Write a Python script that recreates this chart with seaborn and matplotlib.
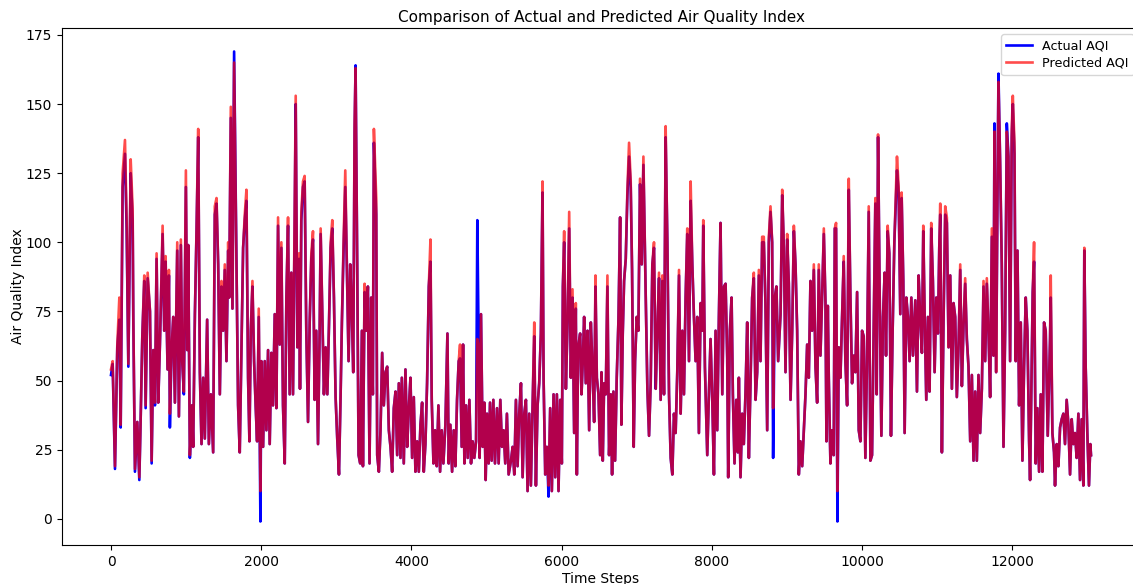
import matplotlib
matplotlib.use("Agg")
import matplotlib.pyplot as plt
import seaborn as sns
import pandas as pd

# ---- data (time step, actual AQI, predicted AQI) ----
steps_a = [0,22,53,84,111,129,155,186,208,231, 262,288,297,319,350,377,394,417,443,461,
           488,519,541,563,585,607,629,651,687,709, 727,753,771,784,806,829,851,882,904,930,
           948,970,997,1015,1028,1050,1077,1094,1117,1139, 1161,1183,1205,1227,1249,1280,1303,1329,1360,1382,
           1405,1427,1449,1471,1493,1515,1537,1560,1573,1595, 1617,1639]
actual_a = [52,56,18,62,72,33,120,132,105,55, 125,108,72,17,35,14,35,66,86,40,
            87,75,20,61,41,94,42,63,103,68, 93,54,88,33,61,73,42,97,37,99,
            57,45,120,61,99,22,41,26,74,104, 138,53,27,51,29,72,27,45,24,110,
            114,92,45,84,68,90,57,97,80,145, 76,169]
pred_a = [54,57,19,63,80,34,125,137,108,56, 130,112,73,18,35,15,35,66,88,41,
          89,75,21,61,42,96,42,63,106,68, 95,54,90,38,61,73,42,100,37,101,
          57,46,126,61,99,23,41,26,74,105, 141,53,27,51,29,72,27,45,24,113,
          116,92,45,86,68,92,57,100,80,149, 76,165]

steps_b = [1670,1692,1714,1737,1759,1781,1803,1825,1843,1861, 1883,1905,1927,1945,1967,1989,2002,2025,2047,2069,
           2091,2113,2135,2157,2180,2202,2224,2246,2268,2290, 2313,2335,2357,2379,2401,2423,2445,2459,2481,2503,
           2516,2534,2556,2578,2600,2623,2645,2667,2689,2711, 2733,2756,2778,2791,2813,2835,2857,2880,2902,2924,
           2946,2968,2990,3012,3035,3057,3074,3097,3119,3141, 3163,3185,3207,3225,3243,3256,3278,3296,3318,3340,
           3354,3376,3398,3420,3442,3464,3486,3500]
actual_b = [94,41,24,62,98,108,115,51,28,68, 84,57,40,28,73,-1,57,26,57,32,
            61,27,60,41,74,40,106,63,98,41, 20,80,106,45,89,45,106,150,62,94,
            47,108,120,122,68,35,71,94,101,43, 68,27,68,103,74,45,62,45,70,98,
            105,80,44,29,16,45,71,98,120,90, 57,92,74,53,140,164,92,23,20,68,
            19,82,68,84,20,80,45,136]
pred_b = [94,41,24,62,98,110,119,51,28,68, 86,57,40,28,76,10,57,26,57,32,
          61,27,60,41,74,40,109,63,100,41, 20,80,109,45,89,45,109,153,62,96,
          47,111,122,124,68,35,71,96,104,43, 68,27,68,105,74,45,62,45,70,100,
          108,80,44,29,16,45,71,101,126,90, 57,92,74,53,143,163,92,23,20,68,
          19,85,68,84,20,80,45,141]

steps_c = [3531,3544,3566,3588,3610,3632,3655,3677,3699,3721, 3743,3765,3788,3810,3832,3854,3872,3898,3920,3943,
           3965,3987,4009,4031,4053,4076,4098,4120,4142,4164, 4186,4208,4231,4253,4270,4293,4315,4337,4359,4381,
           4403,4425,4452,4479,4496,4518,4541,4563,4585,4607, 4629,4647,4669,4687,4705,4727,4749,4771,4793,4815,
           4837,4860,4877,4895,4908,4926,4948,4970,4988,5006, 5028,5046,5068,5090,5112,5139,5161,5183,5205,5227,
           5249,5271,5294]
actual_c = [110,23,17,32,60,41,53,55,32,26, 17,40,46,23,49,22,51,20,54,26,
            40,51,22,44,17,28,17,34,42,17, 27,49,84,93,43,20,32,19,41,17,
            32,20,34,67,20,34,17,32,19,43, 57,58,26,63,20,41,22,43,20,28,
            22,28,108,62,22,74,26,42,14,38, 20,42,21,43,20,40,20,43,26,32,
            20,38,16]
pred_c = [116,23,17,32,60,41,53,55,32,26, 17,40,46,23,49,22,51,20,54,26,
          40,51,22,44,17,28,17,34,42,17, 27,49,84,101,43,20,32,19,41,17,
          32,20,34,67,20,34,17,32,19,43, 57,63,26,63,20,41,22,43,20,28,
          22,28,65,62,22,74,26,42,14,38, 20,42,21,43,20,40,20,43,26,32,
          20,38,16]

steps_d = [5325,5347,5369,5391,5413,5435,5458,5480,5502,5524, 5546,5568,5590,5613,5635,5657,5679,5701,5723,5745,
           5759,5781,5803,5825,5847,5869,5892,5914,5936,5958, 5980,6002,6016,6033,6056,6078,6100,6122,6144,6166,
           6188,6202,6219,6246,6264,6281,6299,6321,6344,6366, 6388,6410,6432,6450,6468,6490,6512,6530,6547,6565,
           6587,6609,6631,6654,6671,6689,6711,6733,6756,6778, 6795,6813,6831,6853,6875,6897,6919,6937,6959,6977,
           6999,7021,7043,7066,7088]
actual_d = [21,26,16,43,19,38,49,15,38,43, 10,38,12,41,66,12,41,49,67,118,
            51,16,26,8,40,10,45,15,45,10, 43,20,84,100,47,71,105,51,80,31,
            76,16,62,67,45,57,73,49,68,32, 71,55,35,84,51,45,23,53,21,49,
            45,84,23,45,16,46,21,51,72,109, 34,67,86,94,117,131,120,90,26,57,
            73,68,121,92,128]
pred_d = [21,26,16,43,19,38,49,15,38,43, 10,38,12,41,71,12,41,49,67,122,
          51,16,26,12,40,10,45,15,45,10, 43,20,84,104,47,71,111,51,83,31,
          78,16,62,67,45,57,73,49,68,32, 71,55,35,88,51,45,23,53,21,49,
          45,88,23,45,16,46,21,51,72,109, 34,67,86,94,119,136,122,90,26,57,
          73,68,123,92,131]

steps_e = [7119,7141,7163,7185,7207,7229,7252,7274,7296,7318, 7340,7362,7384,7407,7429,7451,7473,7495,7517,7539,
           7562,7584,7606,7628,7650,7672,7695,7717,7739,7761, 7783,7805,7827,7850,7872,7885,7907,7938,7960,7982,
           8005,8027,8049,8071,8093,8115,8138,8160,8182,8204, 8217,8239,8262,8279,8301,8324,8346,8359,8381,8403,
           8425,8448,8470,8492,8514,8536,8558,8581,8603,8625, 8647,8669,8691,8713,8736,8758,8780,8802,8815,8837,
           8859,8882]
actual_e = [80,47,30,49,92,98,47,68,87,43, 86,45,138,100,45,22,16,38,31,53,
            88,38,68,45,80,103,57,115,92,73, 57,73,31,78,68,106,55,23,45,65,
            43,16,68,32,73,107,45,84,85,58, 15,68,80,45,20,43,24,51,15,38,
            27,46,71,22,49,80,87,43,53,88, 57,100,100,78,32,100,111,100,22,80,
            84,57]
pred_e = [80,47,30,49,92,100,47,68,89,43, 88,45,142,100,45,22,16,38,31,53,
          90,38,68,45,80,105,57,122,92,73, 57,73,31,78,68,108,55,23,45,65,
          43,16,68,32,73,107,45,84,85,58, 15,68,80,45,20,43,24,51,15,38,
          27,46,71,22,49,80,89,43,53,90, 57,102,102,78,32,102,113,100,40,80,
          84,57]

steps_f = [8914,8936,8958,8980,9002,9024,9047,9069,9091,9113, 9135,9157,9179,9202,9224,9246,9268,9290,9312,9334,
           9357,9379,9401,9423,9445,9467,9490,9512,9525,9543, 9556,9578,9600,9622,9636,9653,9671,9689,9711,9733,
           9755,9777,9800,9822,9844,9866,9888,9910,9933,9955, 9977,9999,10021,10043,10065,10088,10110,10132,10154,10176,
           10194,10212,10234,10256,10278,10300,10318,10340,10362,10384, 10406,10429,10446,10464,10486,10508,10526,10548,10566,10588,
           10610,10632,10655,10677]
actual_f = [74,117,98,53,101,85,43,68,104,92, 68,16,28,19,32,45,63,51,86,68,
            90,55,42,90,59,80,103,78,28,77, 51,20,32,23,105,105,-1,62,51,73,
            93,57,41,119,80,49,59,53,82,32, 28,68,66,22,57,111,21,23,68,114,
            45,138,80,30,73,89,59,104,96,30, 68,100,113,126,118,74,116,86,31,80,
            73,57,80,59]
pred_f = [74,119,98,53,103,85,43,68,106,92, 68,16,28,19,32,45,63,51,86,68,
          92,55,42,92,59,80,105,78,28,77, 51,20,32,23,105,107,10,62,51,73,
          95,57,41,123,80,49,59,53,82,32, 28,68,66,22,57,113,21,23,68,116,
          45,139,80,30,73,89,59,106,96,30, 68,100,115,131,120,74,118,86,31,80,
          73,57,80,59]

steps_g = [10708,10730,10752,10774,10796,10814,10832,10854,10876,10898, 10920,10942,10965,10987,11009,11027,11040,11062,11084,11106,
           11128,11151,11173,11195,11217,11239,11261,11284,11306,11328, 11350,11372,11394,11416,11439,11461,11483,11505,11527,11549,
           11571,11594,11616,11638,11660,11682,11704,11727,11749,11762, 11784,11802,11815,11837,11859,11882,11904,11926,11948,11970,
           11992,12006,12028,12045,12068,12090,12112,12134,12156,12178, 12200,12223,12236,12258,12271,12289,12311,12333,12356,12378,
           12400,12422,12444,12471]
actual_g = [79,46,88,72,60,104,74,43,73,46, 105,86,53,80,67,98,110,24,72,110,
            107,62,88,47,78,73,44,63,90,48, 70,85,65,55,28,52,21,46,21,52,
            31,47,84,57,85,68,44,102,59,143, 53,117,161,129,92,26,68,143,131,57,
            138,150,132,57,97,41,71,21,55,80, 68,28,14,57,82,93,20,40,17,45,
            17,71,68,30]
pred_g = [79,46,88,72,60,106,74,43,73,46, 107,86,53,80,67,98,114,24,72,113,
          109,62,88,47,78,73,44,63,92,48, 70,87,65,55,28,52,21,46,21,52,
          31,47,86,57,87,68,44,105,59,140, 53,119,158,129,92,26,68,140,131,57,
          141,153,136,57,97,41,71,21,55,80, 68,28,14,57,82,100,20,40,17,45,
          17,71,68,30]

steps_h = [12502,12511,12533,12555,12568,12591,12613,12635,12657,12679, 12701,12723,12746,12768,12790,12812,12834,12856,12879,12901,
           12923,12945,12958,12976,12998,13020,13038,13047]
actual_h = [65,80,31,24,12,27,19,33,36,38, 27,43,34,16,36,27,31,22,38,14,
            36,12,97,55,31,12,27,23]
pred_h = [65,88,31,24,12,27,19,33,36,38, 27,43,34,16,36,27,31,22,38,14,
          36,12,98,55,31,12,27,23]

steps = steps_a + steps_b + steps_c + steps_d + steps_e + steps_f + steps_g + steps_h
actual_aqi = actual_a + actual_b + actual_c + actual_d + actual_e + actual_f + actual_g + actual_h
predicted_aqi = pred_a + pred_b + pred_c + pred_d + pred_e + pred_f + pred_g + pred_h

df = pd.DataFrame({"Time Steps": steps, "Actual AQI": actual_aqi, "Predicted AQI": predicted_aqi})

W, H = 1133, 584
fig = plt.figure(figsize=(W / 100, H / 100), dpi=100)
ax = fig.add_axes([62 / W, (H - 545) / H, (1140 - 62) / W, (545 - 28) / H])

sns.lineplot(data=df, x="Time Steps", y="Actual AQI", color="blue", linewidth=1.9,
             label="Actual AQI", estimator=None, ax=ax)
sns.lineplot(data=df, x="Time Steps", y="Predicted AQI", color="red", alpha=0.7, linewidth=1.9,
             label="Predicted AQI", estimator=None, ax=ax)

ax.set_title("Comparison of Actual and Predicted Air Quality Index", fontsize=11, pad=4.5)
ax.set_xlabel("Time Steps", labelpad=2)
ax.set_ylabel("Air Quality Index", labelpad=1)
ax.legend(loc="upper right", fontsize=9.2, labelspacing=0.35)

fig.savefig("out.png", dpi=100)
